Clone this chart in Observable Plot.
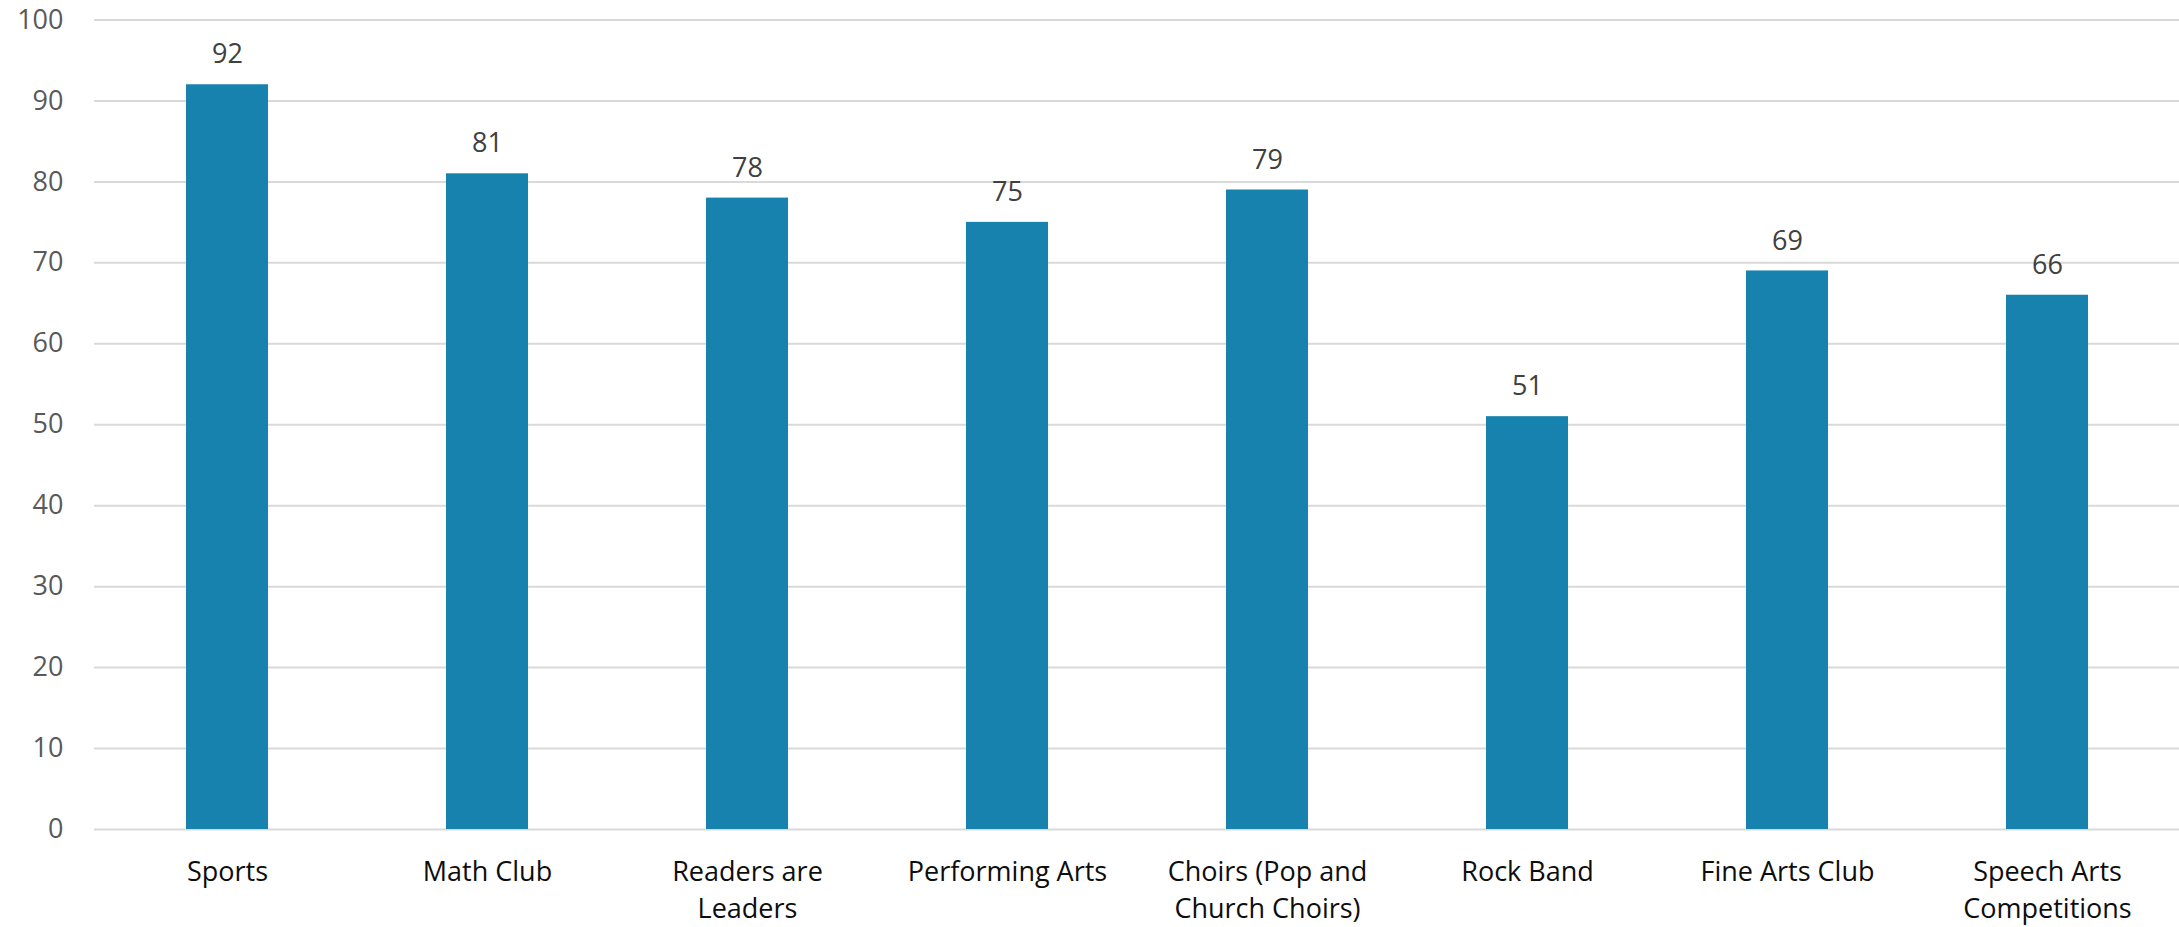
<!DOCTYPE html>
<html>
<head>
<meta charset="utf-8">
<script src="https://cdn.jsdelivr.net/npm/d3@7"></script>
<script src="https://cdn.jsdelivr.net/npm/@observablehq/plot@0.6"></script>
<style>
  html, body { margin: 0; padding: 0; background: #fff; }
  #chart svg { display: block; }
</style>
</head>
<body>
<div id="chart"></div>
<script>
const categories = ["Sports", "Math Club", "Readers are Leaders", "Performing Arts", "Choirs (Pop and Church Choirs)", "Rock Band", "Fine Arts Club", "Speech Arts Competitions"];
const tickLabels = ["Sports", "Math Club", "Readers are\nLeaders", "Performing Arts", "Choirs (Pop and\nChurch Choirs)", "Rock Band", "Fine Arts Club", "Speech Arts\nCompetitions"];
const values = [92, 81, 78, 75, 79, 51, 69, 66];
const yTicks = [0, 10, 20, 30, 40, 50, 60, 70, 80, 90, 100];

const data = categories.map((c, i) => ({category: c, value: values[i]}));
const labelOf = new Map(categories.map((c, i) => [c, tickLabels[i]]));

const font = "'Open Sans', 'Noto Sans', sans-serif";

const chart = Plot.plot({
  width: 2179,
  height: 927,
  marginLeft: 94,
  marginRight: 0,
  marginTop: 19.5,
  marginBottom: 98,
  style: {fontFamily: font, fontSize: "27px", background: "#fff"},
  x: {domain: categories, paddingInner: 0.685, paddingOuter: 0.3425},
  y: {domain: [0, 100]},
  marks: [
    Plot.ruleY(yTicks, {stroke: "#d9d9d9", strokeWidth: 2}),
    Plot.barY(data, {x: "category", y: "value", fill: "#1782ae"}),
    Plot.text(data, {x: "category", y: "value", text: d => String(d.value), dy: -30, fill: "#404040", fontSize: 27}),
    Plot.axisY({ticks: yTicks, tickSize: 0, tickPadding: 31, fill: "#595959", fontSize: 27, label: null}),
    Plot.axisX({tickSize: 0, tickPadding: 25, tickFormat: d => labelOf.get(d), lineHeight: 1.38, fill: "#0d0d0d", fontSize: 27, label: null})
  ]
});
document.getElementById("chart").appendChild(chart);
</script>
</body>
</html>
